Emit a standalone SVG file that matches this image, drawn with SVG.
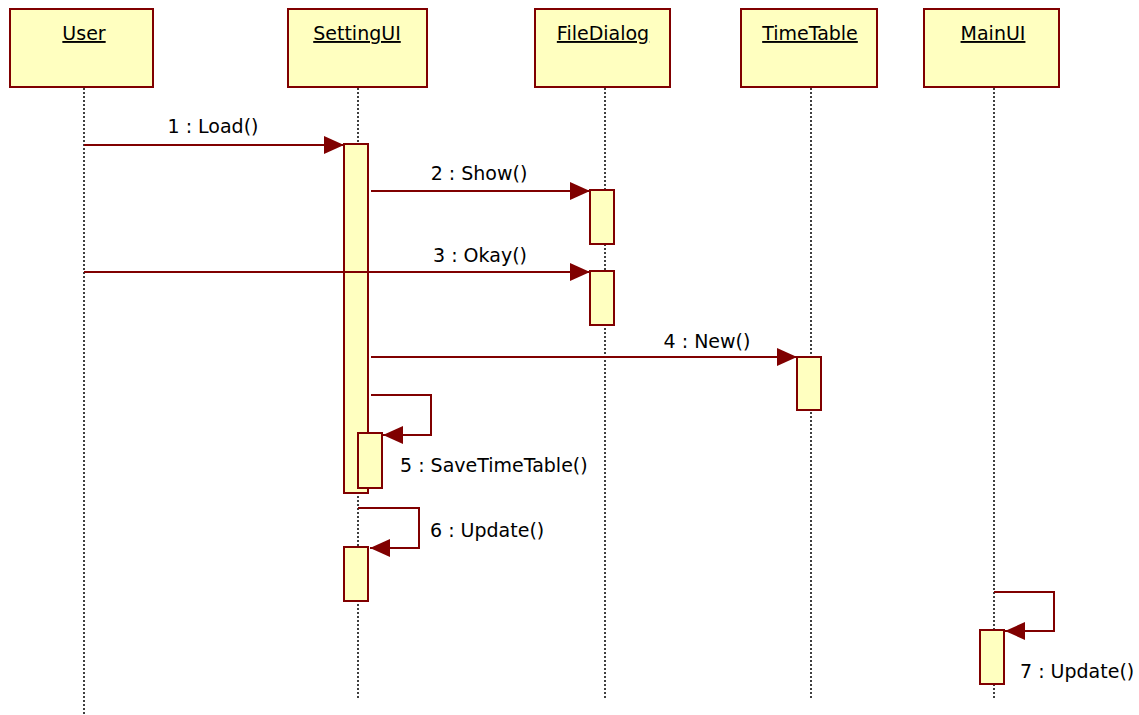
<svg xmlns="http://www.w3.org/2000/svg" width="1139" height="715" viewBox="0 0 1139 715">
<style>
.box{fill:#FFFFC0;stroke:#800000;stroke-width:2}
.act{fill:#FFFFC0;stroke:#800000;stroke-width:2}
.life{stroke:#000;stroke-width:1.5;stroke-dasharray:2,2;fill:none}
.msg{stroke:#800000;stroke-width:2;fill:none;marker-end:url(#ah)}
.t{font-family:"DejaVu Sans",Verdana,sans-serif;font-size:19px;fill:#000}
.h{text-decoration:underline;text-anchor:middle}
</style>
<defs>
<marker id="ah" markerUnits="userSpaceOnUse" markerWidth="22" markerHeight="18" refX="20" refY="9" orient="auto">
<path d="M0,0 L20,9 L0,18 Z" fill="#800000"/>
</marker>
</defs>
<rect width="1139" height="715" fill="#fff"/>
<g id="lifelines">
<line class="life" x1="84" y1="88" x2="84" y2="715"/>
<line class="life" x1="358" y1="88" x2="358" y2="700"/>
<line class="life" x1="605" y1="88" x2="605" y2="700"/>
<line class="life" x1="811" y1="88" x2="811" y2="700"/>
<line class="life" x1="994" y1="88" x2="994" y2="700"/>
</g>
<g id="User"><rect class="box" x="10" y="9" width="143" height="78"/><text class="t h" x="84" y="40">User</text></g>
<g id="SettingUI"><rect class="box" x="288" y="9" width="139" height="78"/><text class="t h" x="357" y="40">SettingUI</text>
<rect class="act" x="344" y="144" width="24" height="349"/>
<rect class="act" x="358" y="433" width="24" height="55"/>
<rect class="act" x="344" y="547" width="24" height="54"/></g>
<g id="FileDialog"><rect class="box" x="535" y="9" width="135" height="78"/><text class="t h" x="603" y="40">FileDialog</text>
<rect class="act" x="590" y="190" width="24" height="54"/>
<rect class="act" x="590" y="271" width="24" height="54"/></g>
<g id="TimeTable"><rect class="box" x="741" y="9" width="136" height="78"/><text class="t h" x="810" y="40">TimeTable</text>
<rect class="act" x="797" y="357" width="24" height="53"/></g>
<g id="MainUI"><rect class="box" x="924" y="9" width="135" height="78"/><text class="t h" x="993" y="40">MainUI</text>
<rect class="act" x="980" y="630" width="24" height="54"/></g>
<g id="connectors">
<path class="msg" d="M84,145 H344"/>
<text class="t" x="213" y="133" text-anchor="middle">1 : Load()</text>
<path class="msg" d="M371,191 H590"/>
<text class="t" x="479" y="180" text-anchor="middle">2 : Show()</text>
<path class="msg" d="M84,272 H590"/>
<text class="t" x="480" y="262" text-anchor="middle">3 : Okay()</text>
<path class="msg" d="M371,357 H797"/>
<text class="t" x="707" y="348" text-anchor="middle">4 : New()</text>
<path class="msg" d="M371,395 H431 V435 H383"/>
<text class="t" x="400" y="472">5 : SaveTimeTable()</text>
<path class="msg" d="M358,508 H419 V548 H370"/>
<text class="t" x="430" y="537">6 : Update()</text>
<path class="msg" d="M994,592 H1054 V631 H1005"/>
<text class="t" x="1020" y="678">7 : Update()</text>
</g>
</svg>
